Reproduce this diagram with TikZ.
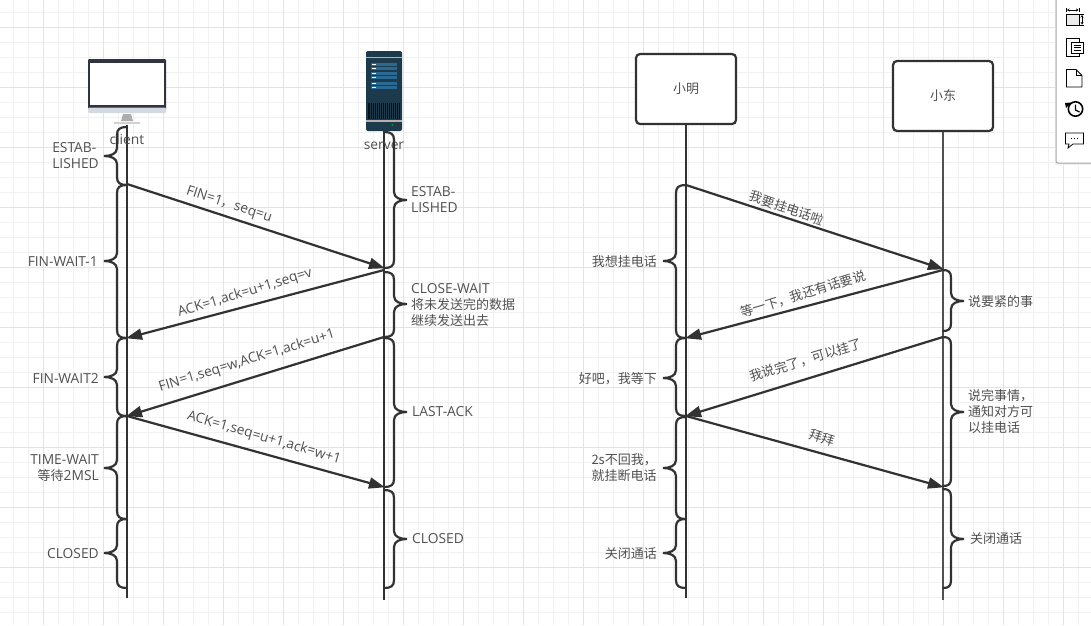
\documentclass[tikz,border=0pt]{standalone}
\usepackage{fontspec}
\setmainfont{Open Sans}
\newfontfamily\cjk{Noto Sans CJK SC}
\newcommand{\cntext}[1]{{\cjk\fontsize{13}{16}\selectfont #1}}
\usetikzlibrary{arrows.meta}
\definecolor{ink}{HTML}{323232}
\definecolor{txt}{HTML}{505050}
\definecolor{gmin}{HTML}{F1F1F1}
\definecolor{gmaj}{HTML}{E3E3E3}
\definecolor{srv}{HTML}{1D3A4D}
\definecolor{srvb}{HTML}{2A6A92}
\definecolor{mon}{HTML}{2F343F}
\definecolor{chin}{HTML}{D3DAE2}
\tikzset{
  life/.style={draw=ink,line width=2.2pt},
  msg/.style={draw=ink,line width=2.2pt,-{Triangle[length=16pt,width=11pt]},shorten >=-1pt},
  bracepath/.style={draw=ink,line width=2.2pt,line cap=round},
  actor/.style={draw=ink,line width=2.2pt,rounded corners=4pt,fill=white,minimum width=100pt,minimum height=70pt,inner sep=0pt,text=txt,font=\fontsize{13}{16}\selectfont\cjk},
  lbl/.style={text=txt,font=\fontsize{13.8}{16}\selectfont,inner sep=0pt},
  lblcn/.style={lbl,font=\fontsize{13}{16}\selectfont\cjk},
  icon/.style={draw=black,line width=1pt}
}
% lifeline x, spine x, tip x, y1, y2, mid
\newcommand{\bracket}[6]{%
  \draw[bracepath] ({#1},{#4}) .. controls ({#2+(#1-#2)*0.3},{#4}) and ({#2},{#4+2}) .. ({#2},{#4+8})
    -- ({#2},{#6-8}) .. controls ({#2},{#6-2}) and ({(#2+#3)/2},{#6}) .. ({#3},{#6})
    .. controls ({(#2+#3)/2},{#6}) and ({#2},{#6+2}) .. ({#2},{#6+8})
    -- ({#2},{#5-8}) .. controls ({#2},{#5-2}) and ({#2+(#1-#2)*0.3},{#5}) .. ({#1},{#5});}
\begin{document}
\begin{tikzpicture}[x=1pt,y=-1pt]
\useasboundingbox (0,0) rectangle (1091,625);
\fill[white] (0,0) rectangle (1091,625);
% grid
\foreach \x in {13,28,...,1090} \draw[gmin,line width=1pt] (\x,0) -- (\x,625);
\foreach \y in {12,27,...,624} \draw[gmin,line width=1pt] (0,\y) -- (1091,\y);
\foreach \x in {43,103,...,1090} \draw[gmaj,line width=1pt] (\x,0) -- (\x,625);
\foreach \y in {27,87,...,624} \draw[gmaj,line width=1pt] (0,\y) -- (1091,\y);

% anchors
\coordinate (cT) at (127,125); \coordinate (cB) at (127,598);
\coordinate (sT) at (384,131); \coordinate (sB) at (384,600);
\coordinate (c1) at (127,184); \coordinate (s1) at (384,268);
\coordinate (s2) at (384,270); \coordinate (c2) at (127,338);
\coordinate (s3) at (384,337); \coordinate (c3) at (127,416);
\coordinate (c4) at (127,416); \coordinate (s4) at (384,487);
\coordinate (mB) at (686,598); \coordinate (dB) at (943,600);
\coordinate (m1) at (686,185); \coordinate (d1) at (943,269);
\coordinate (d2) at (943,270); \coordinate (m2) at (686,338);
\coordinate (d3) at (943,337); \coordinate (m3) at (686,416);
\coordinate (m4) at (686,416); \coordinate (d4) at (943,487);

% client icon
\fill[mon,rounded corners=1pt] (88,59) rectangle (166,110);
\fill[white] (90,63) rectangle (164,105);
\fill[chin,rounded corners=1pt] (88,107.5) rectangle (166,113);
\fill[black!32] (123,114) -- (131,114) -- (133,121) -- (121,121) -- cycle;
\fill[black!18] (114,122) rectangle (140,124);
% server icon
\fill[srv,rounded corners=2pt] (366,51) rectangle (402,131);
\fill[black!30] (366,56.5) rectangle (402,58);
\fill[black!30] (366,119.5) rectangle (402,121.5);
\foreach \y in {63,72,82} {
  \fill[srvb] (371,\y) rectangle (397,{\y+3.2});
  \fill[srvb] (371,{\y+4}) rectangle (397,{\y+7.2});
  \fill[white] (372,{\y+1}) rectangle (376,{\y+2});
  \fill[white] (372,{\y+5}) rectangle (376,{\y+6});
}
\fill[black!70!srv] (368,103) rectangle (400,119);
\foreach \x in {370,372,...,398} \draw[srv,line width=.6pt] (\x,103) -- (\x,119);
\fill[green!60!black] (392.5,125) circle (1.2);
\fill[red!60!black] (397.5,125) circle (1.2);

% lifelines client / server
\draw[life] (cT) -- (cB);
\draw[life] (sT) -- (sB);
\node[lbl] (clientL) at (127,139) {client};
\node[lbl] (serverL) at (384,146) {server};

% actors
\node[actor] (ming) at (686,89) {小明};
\node[actor] (dong) at (943,96) {小东};
\draw[life] (ming.south) -- (mB);
\draw[life,draw=ink!85] (dong.south) -- (dB);

% braces left panel
\bracket{127}{117}{104}{127}{185}{156}
\bracket{127}{117}{104}{185}{338}{261}
\bracket{127}{117}{104}{338}{416}{377}
\bracket{127}{117}{104}{416}{519}{468}
\bracket{127}{117}{104}{519}{588}{553}
\bracket{384}{394}{407}{132}{268}{200}
\bracket{384}{394}{407}{272}{337}{304}
\bracket{384}{394}{407}{338}{487}{412}
\bracket{384}{394}{407}{490}{588}{539}
% braces right panel
\bracket{686}{676}{663}{185}{338}{261}
\bracket{686}{676}{663}{338}{416}{378}
\bracket{686}{676}{663}{417}{519}{468}
\bracket{686}{676}{663}{519}{588}{553}
\bracket{943}{951}{964}{270}{331}{301}
\bracket{943}{951}{964}{337}{486}{412}
\bracket{943}{951}{964}{489}{588}{539}

% messages
\draw[msg] (c1) -- (s1);
\draw[msg] (s2) -- (c2);
\draw[msg] (s3) -- (c3);
\draw[msg] (c4) -- (s4);
\draw[msg] (m1) -- (d1);
\draw[msg] (d2) -- (m2);
\draw[msg] (d3) -- (m3);
\draw[msg] (m4) -- (d4);

% message labels
\node[lbl,rotate=-18] (t1) at (229,205) {FIN=1\cntext{，}seq=u};
\node[lbl,rotate=17] (t2) at (245,293) {ACK=1,ack=u+1,seq=v};
\node[lbl,rotate=17] (t3) at (247,361) {FIN=1,seq=w,ACK=1,ack=u+1};
\node[lbl,rotate=-16] (t4) at (264,438) {ACK=1,seq=u+1,ack=w+1};
\node[lblcn,rotate=-19] (t5) at (787,208) {我要挂电话啦};
\node[lblcn,rotate=17] (t6) at (803,294) {等一下，我还有话要说};
\node[lblcn,rotate=17] (t7) at (806,360) {我说完了，可以挂了};
\node[lblcn,rotate=-17] (t8) at (822,438) {拜拜};

% state labels, client
\node[lbl,anchor=east,align=left] (a1) at (99,156) {ESTAB-\\LISHED};
\node[lbl,anchor=east] (a2) at (98,262) {FIN-WAIT-1};
\node[lbl,anchor=east] (a3) at (99,378) {FIN-WAIT2};
\node[lbl,anchor=east,align=right] (a4) at (99,468) {TIME-WAIT\\\cntext{等待}2MSL};
\node[lbl,anchor=east] (a5) at (99,554) {CLOSED};
% state labels, server
\node[lbl,anchor=west,align=left] (b1) at (411,200) {ESTAB-\\LISHED};
\node[lbl,anchor=west,align=left] (b2) at (411,305) {CLOSE-WAIT\\\cntext{将未发送完的数据}\\\cntext{继续发送出去}};
\node[lbl,anchor=west] (b3) at (412,412) {LAST-ACK};
\node[lbl,anchor=west] (b4) at (412,539) {CLOSED};
% right panel labels
\node[lblcn,anchor=east] (e1) at (657,262) {我想挂电话};
\node[lblcn,anchor=east] (e2) at (657,379) {好吧，我等下};
\node[lblcn,anchor=east,align=left] (e3) at (657,468) {2s不回我，\\就挂断电话};
\node[lblcn,anchor=east] (e4) at (657,554) {关闭通话};
\node[lblcn,anchor=west] (f1) at (968,302) {说要紧的事};
\node[lblcn,anchor=west,align=left] (f2) at (968,412) {说完事情，\\通知对方可\\以挂电话};
\node[lblcn,anchor=west] (f3) at (970,539) {关闭通话};

% side toolbar
\fill[black!6] (1054.5,0) rectangle (1091,164.5);
\fill[white] (1056,0) rectangle (1091,163);
\draw[black!35,line width=1pt,rounded corners=2pt] (1056,-3) -- (1056,163) -- (1094,163);
\fill[black!8] (1066.5,14.5) rectangle (1079,25);
\draw[icon] (1066.5,14.5) rectangle (1079,25);
\draw[icon] (1066.5,8) -- (1066.5,12);
\draw[icon] (1079,8) -- (1079,12);
\draw[icon,{Stealth[length=2.5pt,width=3pt]}-{Stealth[length=2.5pt,width=3pt]}] (1067,10) -- (1078.5,10);
\draw[icon] (1080,14.5) -- (1084,14.5);
\draw[icon] (1080,25) -- (1084,25);
\draw[icon,{Stealth[length=2.5pt,width=3pt]}-{Stealth[length=2.5pt,width=3pt]}] (1082,15) -- (1082,24.5);
\draw[icon] (1066.5,38.5) rectangle (1079,56.5);
\draw[icon,fill=white] (1071,42) rectangle (1083,53.5);
\draw[icon] (1073.5,45) -- (1080.5,45) (1073.5,47.5) -- (1080.5,47.5) (1073.5,50) -- (1080.5,50);
\draw[icon,line width=.8pt,fill=white] (1066.5,69.5) -- (1076,69.5) -- (1082,75.5) -- (1082,87) -- (1066.5,87) -- cycle;
\draw[icon,line width=.8pt] (1076,69.5) -- (1076,75.5) -- (1082,75.5);
\draw[black,line width=1.6pt] (1075.5,109) circle (7.2);
\fill[black] (1065,103) -- (1071,102.5) -- (1066,108) -- cycle;
\draw[black,line width=1.2pt] (1075.5,104.5) -- (1075.5,110) -- (1079.5,112);
\draw[icon,line width=.8pt,fill=white] (1065.5,133) -- (1083.5,133) -- (1083.5,144) -- (1073,144) -- (1068,148) -- (1069,144) -- (1065.5,144) -- cycle;
\fill[black] (1071.5,138.5) circle (.6) (1074.5,138.5) circle (.6) (1077.5,138.5) circle (.6);
\end{tikzpicture}
\end{document}
